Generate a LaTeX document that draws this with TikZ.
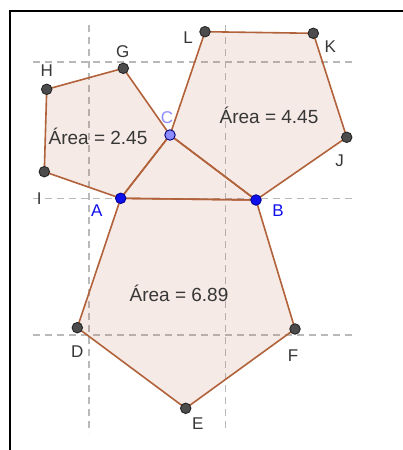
\documentclass[tikz,border=0pt]{standalone}
\usepackage{fontspec}
\setmainfont{Liberation Sans}
\definecolor{edgebrown}{RGB}{178,98,58}
\definecolor{gridgray}{RGB}{185,185,185}
\definecolor{labgray}{RGB}{55,55,55}
\definecolor{ptblue}{RGB}{15,15,235}
\definecolor{ptlight}{RGB}{140,140,255}
\begin{document}
\begin{tikzpicture}[x=1pt,y=-1pt,
  poly/.style={draw=edgebrown,line width=1.6pt,fill=edgebrown,fill opacity=0.13,line join=round},
  gridline/.style={draw=gridgray,line width=1.1pt,dash pattern=on 7pt off 5pt},
  every label/.style={text=labgray,font=\fontsize{17}{17}\selectfont,inner sep=0pt},
  pt/.style={circle,draw=black!85,fill=black!70,line width=0.9pt,inner sep=0pt,minimum size=10.5pt},
  bluept/.style={pt,fill=ptblue,draw=blue!60!black},
  lightpt/.style={pt,fill=ptlight,draw=blue!50!black},
  arealabel/.style={text=labgray,font=\fontsize{19}{19}\selectfont,inner sep=0pt}]
\useasboundingbox (0,0) rectangle (403,450);
\fill[white] (0,0) rectangle (403,450);
\draw[line width=2pt] (10,450) -- (10,11) -- (403,11);

\foreach \gx in {89,225.5} \draw[gridline] (\gx,25) -- (\gx,433);
\foreach \gy in {62,198.5,335} \draw[gridline] (33,\gy) -- (352,\gy);

\coordinate (A) at (120.7,198.3);
\coordinate (B) at (256,200);
\coordinate (C) at (170,135);
\coordinate (D) at (77.3,327.7);
\coordinate (E) at (185.7,408.3);
\coordinate (F) at (295,329);
\coordinate (G) at (123.3,68.3);
\coordinate (H) at (46.7,89.3);
\coordinate (I) at (44.3,171.7);
\coordinate (J) at (346.7,137.3);
\coordinate (K) at (313.3,33.3);
\coordinate (L) at (205,31.7);

\filldraw[poly] (A) -- (B) -- (F) -- (E) -- (D) -- cycle;
\filldraw[poly] (A) -- (C) -- (G) -- (H) -- (I) -- cycle;
\filldraw[poly] (C) -- (B) -- (J) -- (K) -- (L) -- cycle;
\filldraw[poly] (A) -- (B) -- (C) -- cycle;

\node[arealabel] (a1) at (98,136) {Área = 2.45};
\node[arealabel] (a2) at (269,115) {Área = 4.45};
\node[arealabel] (a3) at (179,293) {Área = 6.89};

\node[pt,label={[shift={(0,24)}]center:D}] (pD) at (D) {};
\node[pt,label={[shift={(12,15)}]center:E}] (pE) at (E) {};
\node[pt,label={[shift={(-2,27)}]center:F}] (pF) at (F) {};
\node[pt,label={[shift={(-0.6,-16.6)}]center:G}] (pG) at (G) {};
\node[pt,label={[shift={(0,-19)}]center:H}] (pH) at (H) {};
\node[pt,label={[shift={(-5,27)}]center:I}] (pI) at (I) {};
\node[pt,label={[shift={(-7,23)}]center:J}] (pJ) at (J) {};
\node[pt,label={[shift={(17,13)}]center:K}] (pK) at (K) {};
\node[pt,label={[shift={(-17,6)}]center:L}] (pL) at (L) {};
\node[bluept,label={[shift={(-24,12)},text=ptblue]center:A}] (pA) at (A) {};
\node[bluept,label={[shift={(22,11)},text=ptblue]center:B}] (pB) at (B) {};
\node[lightpt,label={[shift={(-3,-17)},text=ptlight]center:C}] (pC) at (C) {};
\end{tikzpicture}
\end{document}
